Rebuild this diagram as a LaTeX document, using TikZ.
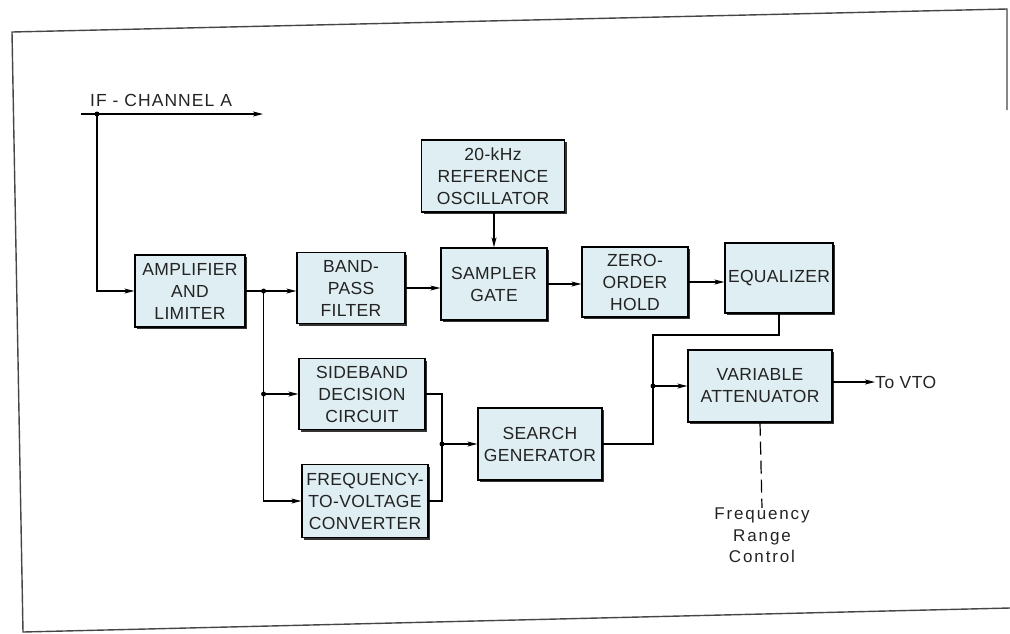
\documentclass[tikz,border=0pt]{standalone}
\usepackage{fontspec}
\setmainfont{Liberation Sans}
\newfontfamily\boxfont[LetterSpace=2]{Liberation Sans}
\newfontfamily\ctrlfont[LetterSpace=11]{Liberation Sans}
\newfontfamily\sigfont[LetterSpace=6]{Liberation Sans}
\newfontfamily\vtofont[LetterSpace=3]{Liberation Sans}
\usepackage{tikz}
\usetikzlibrary{arrows.meta}
\usetikzlibrary{shadows}
\definecolor{boxblue}{RGB}{222,238,243}
\definecolor{framegray}{RGB}{70,70,70}
\definecolor{inkgray}{RGB}{35,35,35}
\tikzset{blk/.style={draw=black, fill=boxblue, line width=1.2pt, align=center, inner sep=0pt,
    text=inkgray, font=\boxfont\fontsize{17.5}{22}\selectfont,
    drop shadow={shadow xshift=2pt, shadow yshift=-2pt, fill=black!80, opacity=1}},
  sig/.style={line width=1.2pt, ->, >={Stealth[length=10pt,width=5pt,inset=2.5pt]}},
  wire/.style={line width=1.2pt},
  jdot/.style={circle, fill=black, inner sep=0pt, minimum size=5pt}}

\begin{document}
\begin{tikzpicture}[x=1pt, y=-1pt]
\useasboundingbox (0,0) rectangle (1010,633);
% frame
\draw[framegray, line width=1.4pt] (1007,110) -- (1007,9) -- (12,32) -- (23,632) -- (1010,608);

% blocks
\node[blk, minimum width=110pt, minimum height=72pt] (amp) at (190,291) {AMPLIFIER\\AND\\LIMITER};
\node[blk, minimum width=108pt, minimum height=71pt] (bpf) at (351,288) {BAND-\\PASS\\FILTER};
\node[blk, minimum width=143pt, minimum height=72pt] (ref) at (493,176) {20-kHz\\REFERENCE\\OSCILLATOR};
\node[blk, minimum width=106pt, minimum height=72pt] (smp) at (494,284) {SAMPLER\\GATE};
\node[blk, minimum width=106pt, minimum height=70pt] (zoh) at (635,282) {ZERO-\\ORDER\\HOLD};
\node[blk, minimum width=108pt, minimum height=70pt] (eq) at (779,278) {EQUALIZER};
\node[blk, minimum width=144pt, minimum height=72pt] (att) at (760,386) {VARIABLE\\ATTENUATOR};
\node[blk, minimum width=124pt, minimum height=72pt] (srch) at (540,444) {SEARCH\\GENERATOR};
\node[blk, minimum width=126pt, minimum height=71pt] (sdb) at (362,394) {SIDEBAND\\DECISION\\CIRCUIT};
\node[blk, minimum width=126pt, minimum height=73pt] (fvc) at (365,501) {FREQUENCY-\\TO-VOLTAGE\\CONVERTER};

% labels
\node[text=inkgray, font=\sigfont\fontsize{17.5}{20}\selectfont, anchor=base west, inner sep=0pt] (ifa) at (90,106) {IF - CHANNEL A};
\node[text=inkgray, font=\vtofont\fontsize{17.5}{20}\selectfont, anchor=west, inner sep=0pt] (vto) at (875,382) {To VTO};
\node[text=inkgray, font=\ctrlfont\fontsize{17}{21.5}\selectfont, align=center, anchor=north, inner sep=0pt] (frc) at (762,508) {Frequency\\Range\\Control};

% junctions
\coordinate (ifin) at (81,114);
\coordinate (ifout) at (263,114);
\coordinate (ifj) at (97,114);
\path (amp.east) ++(18,0) coordinate (ampj);
\coordinate (sdbj) at (ampj |- sdb.west);
\coordinate (srchj) at (442,444);
\coordinate (attj) at (653,386);
\coordinate (eqbend) at (653,335);

% connectors
\draw[sig] (ifin) -- (ifout);
\draw[sig] (ifj) |- (amp.west);
\draw[wire] (amp.east) -- (ampj);
\draw[sig] (ampj) -- (ampj -| bpf.west);
\draw[sig] (ampj) |- (sdb.west);
\draw[sig] (ampj) |- (fvc.west);
\draw[sig] (bpf.east) -- (bpf.east -| smp.west);
\draw[sig] (ref.south -| smp.north) -- (smp.north);
\draw[sig] (smp.east) -- (smp.east -| zoh.west);
\draw[sig] (zoh.east) -- (zoh.east -| eq.west);
\draw[wire] (sdb.east) -| (srchj);
\draw[wire] (fvc.east) -| (srchj);
\draw[sig] (srchj) -- (srch.west);
\draw[wire] (srch.east) -| (attj);
\draw[wire] (eq.south) |- (eqbend) -- (attj);
\draw[sig] (attj) -- (att.west);
\draw[sig] (att.east |- vto.west) -- (vto.west);
\draw[wire, dash pattern=on 13pt off 6pt] (att.south) -- (frc.north);

\foreach \j in {ifj,ampj,sdbj,srchj,attj}
  \node[jdot] at (\j) {};
\end{tikzpicture}
\end{document}
